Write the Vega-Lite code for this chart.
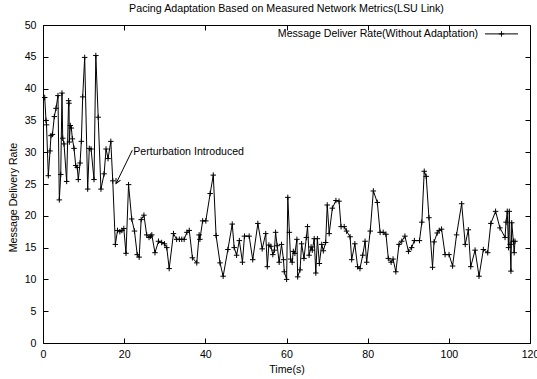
{
  "$schema": "https://vega.github.io/schema/vega-lite/v6.json",
  "autosize": "none",
  "width": 487,
  "height": 318,
  "padding": {"left": 43, "top": 25, "right": 7, "bottom": 36},
  "background": "white",
  "config": {
    "font": "Liberation Sans",
    "view": {"stroke": "#000", "strokeWidth": 1},
    "axis": {
      "domain": false,
      "grid": false,
      "tickColor": "#000",
      "tickSize": -5,
      "labelColor": "#000",
      "labelFontSize": 10.6,
      "labelFont": "Liberation Sans",
      "titleFont": "Liberation Sans",
      "titleFontSize": 10.6,
      "titleFontWeight": "normal",
      "titleColor": "#000"
    },
    "title": {"font": "Liberation Sans", "fontSize": 10.7, "fontWeight": "normal", "color": "#000"}
  },
  "title": {"text": "Pacing Adaptation Based on Measured Network Metrics(LSU Link)", "anchor": "middle", "offset": 5},
  "layer": [
    {
      "data": {"name": "series"},
      "mark": {"type": "line", "color": "#000", "strokeWidth": 1},
      "encoding": {
        "x": {"field": "t", "type": "quantitative", "scale": {"domain": [0, 120], "nice": false}, "axis": {"orient": "bottom", "values": [0, 20, 40, 60, 80, 100, 120], "title": "Time(s)", "labelPadding": 11, "titlePadding": 5, "labelFlush": false}},
        "y": {"field": "r", "type": "quantitative", "scale": {"domain": [0, 50], "nice": false}, "axis": {"orient": "left", "values": [0, 5, 10, 15, 20, 25, 30, 35, 40, 45, 50], "title": "Message Delivery Rate", "labelPadding": 12, "titlePadding": 6, "titleY": 172}}
      }
    },
    {
      "data": {"name": "series"},
      "mark": {"type": "point", "shape": "M-1,0L1,0M0,-1L0,1", "size": 30, "filled": false, "stroke": "#000", "strokeWidth": 1, "opacity": 1},
      "encoding": {
        "x": {"field": "t", "type": "quantitative", "axis": {"orient": "top", "values": [0, 20, 40, 60, 80, 100, 120], "labels": false, "title": null}},
        "y": {"field": "r", "type": "quantitative", "axis": {"orient": "right", "values": [0, 5, 10, 15, 20, 25, 30, 35, 40, 45, 50], "labels": false, "title": null}}
      }
    },
    {
      "data": {"values": [{"x": 22.0, "y": 30.3, "x2": 18.0, "y2": 25.08}]},
      "mark": {"type": "rule", "color": "#000", "strokeWidth": 1},
      "encoding": {
        "x": {"field": "x", "type": "quantitative", "axis": null},
        "y": {"field": "y", "type": "quantitative", "axis": null},
        "x2": {"field": "x2"},
        "y2": {"field": "y2"}
      }
    },
    {
      "data": {"values": [{"x": 18.0, "y": 25.08}]},
      "mark": {"type": "point", "shape": "M-0.5,-1L0,0L0.5,-1", "size": 100, "filled": false, "stroke": "#000", "strokeWidth": 1, "angle": 26, "opacity": 1},
      "encoding": {
        "x": {"field": "x", "type": "quantitative", "axis": null},
        "y": {"field": "y", "type": "quantitative", "axis": null}
      }
    },
    {
      "data": {"values": [{"x": 22.25, "y": 30.0, "label": "Perturbation Introduced"}]},
      "mark": {"type": "text", "align": "left", "baseline": "middle", "fontSize": 10.6, "color": "#000", "font": "Liberation Sans"},
      "encoding": {
        "x": {"field": "x", "type": "quantitative", "axis": null},
        "y": {"field": "y", "type": "quantitative", "axis": null},
        "text": {"field": "label"}
      }
    },
    {
      "data": {"values": [{"x": 107.2, "y": 48.6, "label": "Message Deliver Rate(Without Adaptation)"}]},
      "mark": {"type": "text", "align": "right", "baseline": "middle", "fontSize": 10.6, "color": "#000", "font": "Liberation Sans"},
      "encoding": {
        "x": {"field": "x", "type": "quantitative", "axis": null},
        "y": {"field": "y", "type": "quantitative", "axis": null},
        "text": {"field": "label"}
      }
    },
    {
      "data": {"values": [{"x": 108.9, "x2": 117.05, "y": 48.6}]},
      "mark": {"type": "rule", "color": "#000", "strokeWidth": 1},
      "encoding": {
        "x": {"field": "x", "type": "quantitative", "axis": null},
        "x2": {"field": "x2"},
        "y": {"field": "y", "type": "quantitative", "axis": null}
      }
    },
    {
      "data": {"values": [{"x": 112.97, "y": 48.6}]},
      "mark": {"type": "point", "shape": "M-1,0L1,0M0,-1L0,1", "size": 30, "filled": false, "stroke": "#000", "strokeWidth": 1, "opacity": 1},
      "encoding": {
        "x": {"field": "x", "type": "quantitative", "axis": null},
        "y": {"field": "y", "type": "quantitative", "axis": null}
      }
    }
  ],
  "resolve": {"axis": {"x": "independent", "y": "independent"}},
  "datasets": {
    "series": [
      {"t": 0.42, "r": 38.6}, {"t": 0.74, "r": 35.0}, {"t": 0.87, "r": 34.3}, {"t": 1.31, "r": 26.3},
      {"t": 1.73, "r": 30.2}, {"t": 1.97, "r": 32.6}, {"t": 2.33, "r": 32.8}, {"t": 2.79, "r": 35.6},
      {"t": 3.21, "r": 36.9}, {"t": 3.69, "r": 38.9}, {"t": 4.02, "r": 22.5}, {"t": 4.37, "r": 26.5},
      {"t": 4.68, "r": 39.3}, {"t": 4.86, "r": 32.2}, {"t": 5.18, "r": 31.3}, {"t": 5.83, "r": 25.4},
      {"t": 6.31, "r": 38.1}, {"t": 6.41, "r": 37.7}, {"t": 6.49, "r": 31.6}, {"t": 6.73, "r": 34.2},
      {"t": 6.99, "r": 33.8}, {"t": 7.24, "r": 32.1}, {"t": 7.65, "r": 30.6}, {"t": 8.06, "r": 27.9},
      {"t": 8.45, "r": 27.6}, {"t": 8.70, "r": 25.7}, {"t": 9.13, "r": 28.3}, {"t": 9.45, "r": 31.7},
      {"t": 9.78, "r": 38.7}, {"t": 10.27, "r": 44.9}, {"t": 11.01, "r": 24.2}, {"t": 11.41, "r": 30.6},
      {"t": 11.85, "r": 30.5}, {"t": 12.57, "r": 25.7}, {"t": 13.02, "r": 45.2}, {"t": 13.6, "r": 35.5},
      {"t": 14.28, "r": 24.2}, {"t": 15.06, "r": 26.6}, {"t": 15.54, "r": 30.5}, {"t": 16.03, "r": 29.0},
      {"t": 16.71, "r": 31.7}, {"t": 17.19, "r": 25.5}, {"t": 17.83, "r": 15.5}, {"t": 18.36, "r": 17.7},
      {"t": 18.94, "r": 17.5}, {"t": 19.43, "r": 17.7}, {"t": 19.91, "r": 18.0}, {"t": 20.45, "r": 14.1},
      {"t": 21.08, "r": 24.9}, {"t": 21.86, "r": 19.5}, {"t": 22.54, "r": 17.6}, {"t": 23.22, "r": 13.9},
      {"t": 23.70, "r": 13.5}, {"t": 24.19, "r": 19.4}, {"t": 24.87, "r": 20.1}, {"t": 25.55, "r": 17.0},
      {"t": 26.13, "r": 16.6}, {"t": 26.52, "r": 16.8}, {"t": 26.81, "r": 17.0}, {"t": 27.59, "r": 14.2},
      {"t": 28.46, "r": 16.0}, {"t": 29.24, "r": 15.8}, {"t": 29.92, "r": 15.6}, {"t": 30.50, "r": 15.0},
      {"t": 31.09, "r": 11.7}, {"t": 32.15, "r": 17.2}, {"t": 32.93, "r": 16.3}, {"t": 33.6, "r": 16.3},
      {"t": 34.2, "r": 16.3}, {"t": 34.78, "r": 16.3}, {"t": 35.46, "r": 17.4}, {"t": 36.04, "r": 17.7},
      {"t": 36.82, "r": 13.4}, {"t": 37.89, "r": 12.6}, {"t": 38.47, "r": 17.0}, {"t": 38.66, "r": 16.3},
      {"t": 39.34, "r": 19.2}, {"t": 40.12, "r": 19.2}, {"t": 41.19, "r": 23.5}, {"t": 41.96, "r": 26.4},
      {"t": 42.65, "r": 16.9}, {"t": 43.62, "r": 12.6}, {"t": 44.39, "r": 10.5}, {"t": 45.56, "r": 14.7},
      {"t": 46.63, "r": 18.7}, {"t": 47.11, "r": 15.0}, {"t": 47.70, "r": 13.8}, {"t": 48.38, "r": 16.1},
      {"t": 49.15, "r": 12.7}, {"t": 49.64, "r": 16.8}, {"t": 50.80, "r": 16.8}, {"t": 51.68, "r": 13.1},
      {"t": 52.94, "r": 18.8}, {"t": 54.01, "r": 14.8}, {"t": 54.88, "r": 17.2}, {"t": 55.27, "r": 12.0},
      {"t": 55.66, "r": 15.4}, {"t": 56.15, "r": 15.2}, {"t": 56.63, "r": 13.9}, {"t": 57.02, "r": 14.6},
      {"t": 57.31, "r": 17.4}, {"t": 57.7, "r": 15.3}, {"t": 58.19, "r": 12.7}, {"t": 58.77, "r": 15.5},
      {"t": 59.26, "r": 13.1}, {"t": 59.45, "r": 11.2}, {"t": 60.03, "r": 10.0}, {"t": 60.32, "r": 22.9},
      {"t": 60.71, "r": 17.4}, {"t": 61.0, "r": 13.2}, {"t": 61.39, "r": 12.7}, {"t": 61.68, "r": 14.4},
      {"t": 62.07, "r": 14.1}, {"t": 62.56, "r": 16.3}, {"t": 62.75, "r": 10.4}, {"t": 63.34, "r": 11.5},
      {"t": 63.72, "r": 15.6}, {"t": 64.31, "r": 13.3}, {"t": 64.89, "r": 16.6}, {"t": 65.18, "r": 18.3},
      {"t": 65.57, "r": 13.8}, {"t": 66.06, "r": 15.1}, {"t": 66.35, "r": 14.6}, {"t": 66.83, "r": 16.4},
      {"t": 67.22, "r": 11.0}, {"t": 67.61, "r": 16.4}, {"t": 68.10, "r": 12.5}, {"t": 68.68, "r": 15.5},
      {"t": 69.07, "r": 14.5}, {"t": 69.65, "r": 15.8}, {"t": 70.04, "r": 21.7}, {"t": 70.52, "r": 17.2},
      {"t": 71.30, "r": 21.2}, {"t": 72.18, "r": 22.4}, {"t": 72.95, "r": 22.3}, {"t": 73.44, "r": 18.3},
      {"t": 74.22, "r": 18.3}, {"t": 74.80, "r": 17.6}, {"t": 75.67, "r": 16.7}, {"t": 76.06, "r": 13.1},
      {"t": 76.84, "r": 15.6}, {"t": 77.52, "r": 12.0}, {"t": 78.10, "r": 11.7}, {"t": 78.78, "r": 13.8},
      {"t": 79.36, "r": 16.0}, {"t": 79.75, "r": 12.7}, {"t": 80.63, "r": 17.6}, {"t": 81.40, "r": 23.9},
      {"t": 82.38, "r": 22.1}, {"t": 83.06, "r": 17.4}, {"t": 83.83, "r": 17.4}, {"t": 84.51, "r": 17.1},
      {"t": 85.09, "r": 13.3}, {"t": 85.78, "r": 12.7}, {"t": 86.26, "r": 13.2}, {"t": 86.94, "r": 11.2},
      {"t": 87.72, "r": 15.5}, {"t": 88.40, "r": 16.0}, {"t": 89.18, "r": 16.8}, {"t": 90.05, "r": 14.4},
      {"t": 90.83, "r": 15.0}, {"t": 91.51, "r": 16.1}, {"t": 92.77, "r": 16.1}, {"t": 93.35, "r": 19.0},
      {"t": 93.94, "r": 27.0}, {"t": 94.42, "r": 26.2}, {"t": 95.10, "r": 19.7}, {"t": 95.98, "r": 11.9},
      {"t": 96.36, "r": 15.9}, {"t": 97.14, "r": 17.3}, {"t": 97.63, "r": 17.7}, {"t": 98.21, "r": 17.9},
      {"t": 99.08, "r": 13.9}, {"t": 100.05, "r": 13.9}, {"t": 100.93, "r": 12.1}, {"t": 101.90, "r": 17.0},
      {"t": 103.16, "r": 21.9}, {"t": 104.04, "r": 15.5}, {"t": 104.81, "r": 17.8}, {"t": 105.40, "r": 12.0},
      {"t": 106.47, "r": 14.6}, {"t": 107.44, "r": 10.5}, {"t": 108.51, "r": 14.7}, {"t": 109.58, "r": 14.2},
      {"t": 110.35, "r": 18.8}, {"t": 111.52, "r": 20.7}, {"t": 112.59, "r": 18.1}, {"t": 113.85, "r": 16.6},
      {"t": 114.1, "r": 19.0}, {"t": 114.4, "r": 20.7}, {"t": 114.7, "r": 15.0}, {"t": 114.9, "r": 20.7},
      {"t": 115.1, "r": 15.5}, {"t": 115.3, "r": 11.3}, {"t": 115.5, "r": 18.9}, {"t": 115.9, "r": 16.0},
      {"t": 116.1, "r": 14.2}, {"t": 116.3, "r": 16.0}
    ]
  }
}
